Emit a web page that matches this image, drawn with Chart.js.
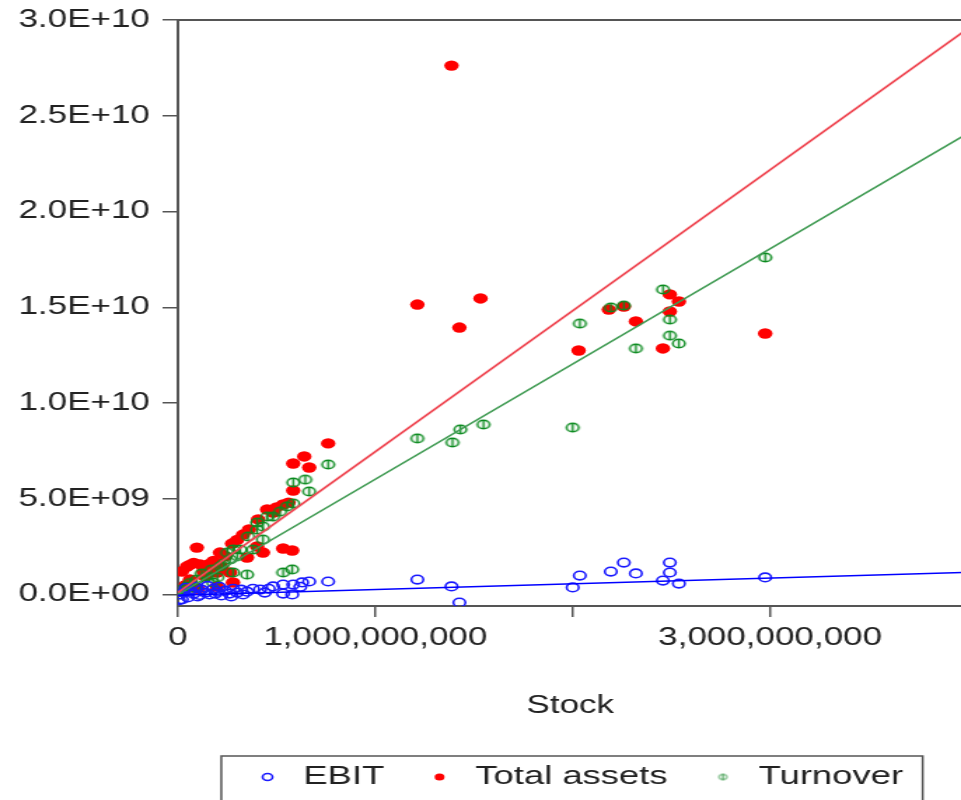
<!DOCTYPE html>
<html>
<head>
<meta charset="utf-8">
<script src="https://cdn.jsdelivr.net/npm/chart.js@4.4.0/dist/chart.umd.min.js"></script>
<style>
  html, body { margin: 0; padding: 0; background: #fff; overflow: hidden; }
  /* the original picture is stretched sideways, so the whole chart is too */
  #wrap { width: 693px; height: 800px; transform: scaleX(1.4009); transform-origin: 0 0; }
</style>
</head>
<body>
<div id="wrap"><canvas id="chart" width="693" height="800"></canvas></div>
<script>
// values in billions (x = Stock)
const ebitX = [1.213, 1.386, 1.426, 2.000, 2.036, 2.193, 2.259, 2.320, 2.457, 2.492, 2.492, 2.538, 2.975,
  0.761, 0.665, 0.629, 0.584, 0.579, 0.533, 0.533, 0.482, 0.416, 0.620,
  0.38, 0.35, 0.32, 0.30, 0.28, 0.26, 0.24, 0.22, 0.20, 0.18, 0.16, 0.14, 0.12, 0.10, 0.08, 0.06,
  0.05, 0.03, 0.02, 0.01, 0.04, 0.09, 0.15, 0.21, 0.27, 0.33, 0.44, 0.46, 0.11, 0.19, 0.005];
const ebitY = [0.78, 0.42, -0.42, 0.37, 0.99, 1.20, 1.67, 1.10, 0.73, 1.67, 1.15, 0.57, 0.89,
  0.68, 0.68, 0.63, 0.52, 0.00, 0.52, 0.05, 0.42, 0.26, 0.40,
  0.30, 0.15, 0.25, 0.10, 0.30, 0.05, 0.20, -0.05, 0.15, 0.30, 0.00, 0.10, 0.25, -0.10, 0.05, 0.20,
  -0.15, 0.10, -0.25, 0.00, 0.35, 0.40, 0.45, 0.40, -0.10, 0.00, 0.10, 0.30, -0.02, 0.05, -0.30];

const assetsX = [1.386, 1.213, 1.533, 1.426, 2.030, 2.183, 2.259, 2.320, 2.492, 2.538, 2.492, 2.457, 2.975,
  0.761, 0.584, 0.640, 0.665, 0.584, 0.533, 0.452, 0.482, 0.406, 0.330, 0.274, 0.213, 0.096, 0.046,
  0.112, 0.152, 0.350, 0.431, 0.533, 0.579, 0.401, 0.264, 0.198, 0.137, 0.061, 0.279, 0.198,
  0.02, 0.08, 0.18, 0.24, 0.36, 0.30, 0.50, 0.56, 0.13, 0.04, 0.10, 0.06, 0.16, 0.22];
const assetsY = [27.62, 15.14, 15.46, 13.94, 12.74, 14.88, 15.04, 14.26, 15.67, 15.30, 14.78, 12.85, 13.63,
  7.89, 6.84, 7.21, 6.63, 5.43, 4.70, 4.44, 4.28, 3.92, 3.13, 2.66, 2.19, 2.45, 1.46,
  1.57, 1.46, 1.93, 2.19, 2.40, 2.30, 2.51, 1.15, 1.15, 0.94, 0.78, 0.63, 0.42,
  1.20, 1.65, 1.75, 2.00, 3.40, 2.85, 4.55, 4.80, 1.20, 0.50, 0.30, 1.55, 1.60, 1.45];

const turnX = [2.975, 2.457, 2.492, 2.492, 2.538, 2.320, 2.036, 2.000, 1.548, 1.213, 1.391, 1.431, 2.193, 2.259,
  0.761, 0.645, 0.665, 0.584, 0.584, 0.482, 0.431, 0.401, 0.431, 0.381, 0.350, 0.533, 0.579, 0.315,
  0.264, 0.213, 0.147, 0.096, 0.046, 0.020, 0.279, 0.178, 0.249, 0.279, 0.355, 0.401, 0.452, 0.518,
  0.553, 0.12, 0.06, 0.23, 0.30, 0.17, 0.03, 0.08, 0.20];
const turnY = [17.60, 15.93, 14.36, 13.52, 13.11, 12.85, 14.15, 8.72, 8.88, 8.15, 7.94, 8.62, 14.99, 15.09,
  6.79, 6.00, 5.38, 5.85, 4.75, 4.07, 3.55, 3.39, 2.87, 2.35, 1.04, 1.15, 1.31, 2.35,
  1.83, 1.46, 0.94, 0.78, 0.42, 0.26, 1.15, 0.63, 2.19, 2.35, 3.03, 3.76, 4.07, 4.33,
  4.60, 1.10, 0.60, 1.60, 2.00, 1.30, 0.15, 0.35, 0.90];

// fitted lines, read at both ends of the axis
const fitX = [0, 3.975];
const fitEbit = [-0.04, 1.15];
const fitAssets = [0.10, 29.35];
const fitTurn = [0.00, 23.92];

const xTicks = [0, 1, 2, 3];
const xTickLabels = ['0', '1,000,000,000', '', '3,000,000,000'];
const yTicks = [0, 5, 10, 15, 20, 25, 30];

const BN = 1e9;
const FONT = '"Liberation Sans", Arial, sans-serif';
const TEXT = '#222';
const AXIS = '#555';

function pts(xs, ys) {
  return xs.map(function(x, i) { return { x: x * BN, y: ys[i] * BN }; });
}

function eLabel(v) {
  var parts = v.toExponential(1).split('e');
  return parts[0] + 'E' + parts[1][0] + parts[1].slice(1).padStart(2, '0');
}

// circle with a vertical bar, like the EViews marker
function phiMarker(r, lw, color) {
  var size = Math.ceil(2 * r + lw + 2);
  var c = document.createElement('canvas');
  c.width = c.height = size;
  var g = c.getContext('2d');
  g.strokeStyle = color;
  g.lineWidth = lw;
  g.beginPath(); g.arc(size / 2, size / 2, r, 0, Math.PI * 2); g.stroke();
  g.beginPath(); g.moveTo(size / 2, size / 2 - r); g.lineTo(size / 2, size / 2 + r); g.stroke();
  return c;
}

const turnMarker = phiMarker(4.3, 1.5, '#0a8a1e');
const turnLegendMarker = phiMarker(2.8, 1, '#3a9a4a');

const frame = {
  id: 'frame',
  afterLayout: function(chart) {
    // nudge the legend a little to the right, as in the picture
    var lg = chart.legend, dx = 4.5;
    lg.left += dx;
    lg.right += dx;
    (lg.legendHitBoxes || []).forEach(function(h) { h.left += dx; });
  },
  afterDraw: function(chart) {
    var ctx = chart.ctx, a = chart.chartArea, lg = chart.legend;
    ctx.save();
    ctx.strokeStyle = AXIS;
    ctx.lineWidth = 2;
    ctx.beginPath(); ctx.moveTo(a.left, a.top); ctx.lineTo(a.right, a.top); ctx.stroke();
    var hb = lg.legendHitBoxes;
    if (hb && hb.length) {
      var first = hb[0], last = hb[hb.length - 1];
      var cy = first.top + first.height / 2;
      var left = first.left + 12.5 - 33;
      var right = last.left + last.width + 14;
      ctx.lineWidth = 1.5;
      ctx.strokeRect(left, cy - 21, right - left, chart.height + 20 - (cy - 21));
    }
    ctx.restore();
  }
};

new Chart(document.getElementById('chart'), {
  type: 'scatter',
  data: {
    datasets: [{
      label: 'EBIT',
      data: pts(ebitX, ebitY),
      pointStyle: 'circle',
      pointRadius: 4.3,
      borderColor: '#1a1aff',
      backgroundColor: 'rgba(0,0,0,0)',
      borderWidth: 1.6,
      order: 1
    }, {
      label: 'Total assets',
      data: pts(assetsX, assetsY),
      pointStyle: 'circle',
      pointRadius: 5.2,
      borderColor: '#ff0000',
      backgroundColor: '#ff0000',
      borderWidth: 0,
      order: 3
    }, {
      label: 'Turnover',
      data: pts(turnX, turnY),
      pointStyle: turnMarker,
      pointRadius: 4.3,
      borderColor: '#0a8a1e',
      backgroundColor: '#0a8a1e',
      order: 2
    }, {
      label: 'fit EBIT',
      data: pts(fitX, fitEbit),
      showLine: true,
      pointRadius: 0,
      borderColor: '#0000ff',
      borderWidth: 1.5,
      order: 0
    }, {
      label: 'fit Total assets',
      data: pts(fitX, fitAssets),
      showLine: true,
      pointRadius: 0,
      borderColor: '#ef4a55',
      borderWidth: 1.8,
      order: 0
    }, {
      label: 'fit Turnover',
      data: pts(fitX, fitTurn),
      showLine: true,
      pointRadius: 0,
      borderColor: '#3f9a52',
      borderWidth: 1.5,
      order: 0
    }]
  },
  options: {
    responsive: false,
    animation: false,
    layout: { padding: { top: 20, left: 0, right: 0, bottom: 0 } },
    plugins: {
      tooltip: { enabled: false },
      legend: {
        position: 'bottom',
        fullSize: false,
        labels: {
          usePointStyle: true,
          boxWidth: 25,
          boxHeight: 5,
          padding: 27,
          color: TEXT,
          font: { family: FONT, size: 26 },
          filter: function(item) { return item.datasetIndex < 3; },
          sort: function(a, b) { return a.datasetIndex - b.datasetIndex; },
          generateLabels: function(chart) {
            var items = Chart.defaults.plugins.legend.labels.generateLabels(chart);
            items.forEach(function(it) {
              if (it.datasetIndex === 2) it.pointStyle = turnLegendMarker;
            });
            return items;
          }
        }
      }
    },
    scales: {
      x: {
        type: 'linear',
        min: 0,
        max: fitX[1] * BN,
        afterBuildTicks: function(scale) {
          scale.ticks = xTicks.map(function(v) { return { value: v * BN }; });
        },
        afterFit: function(scale) {
          scale.height = 131;
          scale.paddingLeft = 0;
          scale.paddingRight = 0;
        },
        ticks: {
          color: TEXT,
          padding: 6,
          maxRotation: 0,
          autoSkip: false,
          font: { family: FONT, size: 25 },
          callback: function(v) { return xTickLabels[xTicks.indexOf(v / BN)]; }
        },
        grid: { drawOnChartArea: false, drawTicks: true, tickLength: 11, color: AXIS, lineWidth: 1.5 },
        border: { display: true, color: AXIS, width: 2 },
        title: {
          display: true,
          text: 'Stock',
          color: TEXT,
          font: { family: FONT, size: 25 },
          padding: { top: 0, bottom: 16 }
        }
      },
      y: {
        type: 'linear',
        min: -0.6 * BN,
        max: 30 * BN,
        afterBuildTicks: function(scale) {
          scale.ticks = yTicks.map(function(v) { return { value: v * BN }; });
        },
        afterFit: function(scale) {
          scale.width = 127;
          scale.paddingTop = 0;
        },
        ticks: {
          color: TEXT,
          padding: 9,
          autoSkip: false,
          font: { family: FONT, size: 25 },
          callback: function(v) { return eLabel(v); }
        },
        grid: { drawOnChartArea: false, drawTicks: true, tickLength: 11, color: AXIS, lineWidth: 1.5 },
        border: { display: true, color: AXIS, width: 2 }
      }
    }
  },
  plugins: [frame]
});
</script>
</body>
</html>
